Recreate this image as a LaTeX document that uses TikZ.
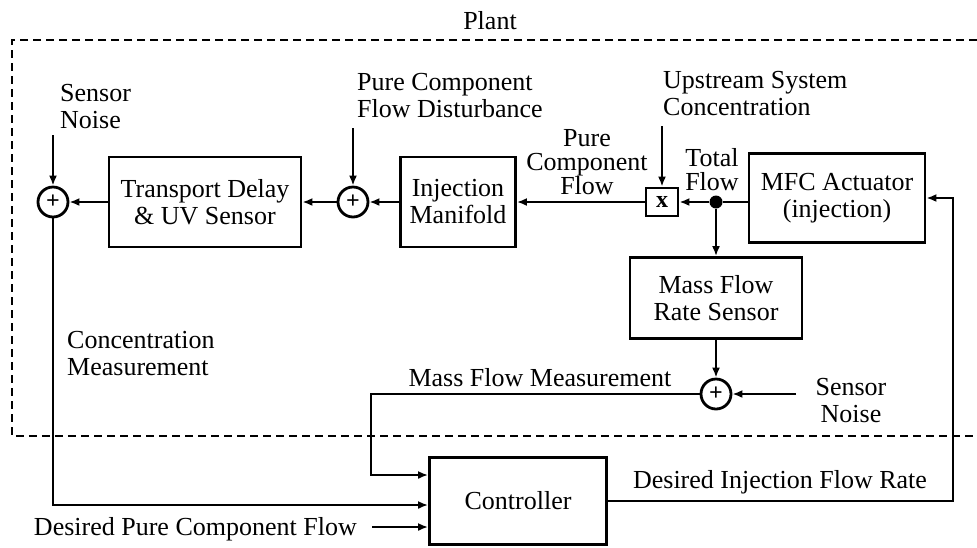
\documentclass[tikz,border=0pt]{standalone}
\usepackage{fontspec}
\setmainfont{Liberation Serif}
\usetikzlibrary{arrows.meta, positioning, calc}

\begin{document}
\begin{tikzpicture}[
    x=1pt, y=-1pt,
    font=\fontsize{26}{27}\selectfont,
    block/.style={rectangle, draw, line width=2.8pt, align=center, inner sep=0pt},
    sum/.style={circle, draw, line width=2.8pt, minimum size=30pt, inner sep=0pt, font=\fontsize{24}{24}\selectfont\bfseries},
    junction/.style={circle, fill, minimum size=13pt, inner sep=0pt},
    arrow/.style={-{Latex[length=10pt, width=8pt]}, line width=2.8pt},
    lbl/.style={align=left, inner sep=0pt},
    plantline/.style={line width=2.2pt, dash pattern=on 8pt off 5pt}
]
    \useasboundingbox (0,0) rectangle (977,547);

    % Plant boundary
    \draw[plantline] (977,40) -- (12,40) -- (12,436) -- (977,436);
    \node[lbl] (plant) at (490,21) {Plant};

    % Blocks
    \node[block, minimum width=192pt, minimum height=90pt] (delay) at (205,202) {Transport Delay\\\& UV Sensor};
    \node[block, minimum width=115pt, minimum height=90pt] (manifold) at (458,202) {Injection\\Manifold};
    \node[block, minimum width=32pt, minimum height=28pt, font=\fontsize{24}{24}\selectfont\bfseries] (mult) at (662,202) {x};
    \node[block, minimum width=176pt, minimum height=89pt] (mfc) at (837,198) {MFC Actuator\\(injection)};
    \node[block, minimum width=172pt, minimum height=81pt] (rate) at (716,298) {Mass Flow\\Rate Sensor};
    \node[block, minimum width=177pt, minimum height=87pt] (ctrl) at (518,501) {Controller};

    % Summing points
    \node[sum] (sumA) at (53,202) {+};
    \node[sum] (sumB) at (353,202) {+};
    \node[sum] (sumC) at (716,394) {+};
    \node[junction] (dot) at (716,202) {};

    % Outside inputs
    \coordinate (noiseA) at (53,135);
    \coordinate (distin) at (353,128);
    \coordinate (upin) at (662,126);
    \coordinate (noiseC) at (796,394);
    \coordinate (dpcin) at (372,527);
    \coordinate (mfmbend) at (371,394);
    \coordinate (fbx) at (953,300);

    % Labels
    \node[lbl, anchor=west] (noiseAtxt) at (60,107) {Sensor\\Noise};
    \node[lbl, anchor=west] (disttxt) at (357,96) {Pure Component\\Flow Disturbance};
    \node[lbl, align=center, font=\fontsize{26}{24}\selectfont] (pcftxt) at (587,162) {Pure\\Component\\Flow};
    \node[lbl, anchor=west] (uptxt) at (663,94) {Upstream System\\Concentration};
    \node[lbl, align=center, font=\fontsize{26}{24}\selectfont] (tftxt) at (712,170) {Total\\Flow};
    \node[lbl, anchor=west] (conctxt) at (67,354) {Concentration\\Measurement};
    \node[lbl] (mfmtxt) at (540,378) {Mass Flow Measurement};
    \node[lbl, align=center] (noiseCtxt) at (851,401) {Sensor\\Noise};
    \node[lbl] (ditxt) at (780,482) {Desired Injection Flow Rate};
    \node[lbl, anchor=east] (dpctxt) at (357,529) {Desired Pure Component Flow};

    % Connections
    \draw[line width=2.8pt] (mfc.west |- dot) -- (dot);
    \draw[arrow] (dot) -- (mult);
    \draw[arrow] (dot) -- (rate);
    \draw[arrow] (mult) -- (manifold);
    \draw[arrow] (manifold) -- (sumB);
    \draw[arrow] (sumB) -- (delay);
    \draw[arrow] (delay) -- (sumA);
    \draw[arrow] (noiseA) -- (sumA);
    \draw[arrow] (distin) -- (sumB);
    \draw[arrow] (upin) -- (mult);
    \draw[arrow] (rate) -- (sumC);
    \draw[arrow] (noiseC) -- (sumC);
    \draw[arrow] (sumC) -- (mfmbend) |- ([yshift=26pt]ctrl.west);
    \draw[arrow] (sumA) |- ([yshift=-4pt]ctrl.west);
    \draw[arrow] (dpcin) -- (dpcin -| ctrl.west);
    \draw[arrow] (ctrl.east) -- (ctrl.east -| fbx) |- (mfc.east);

\end{tikzpicture}
\end{document}
